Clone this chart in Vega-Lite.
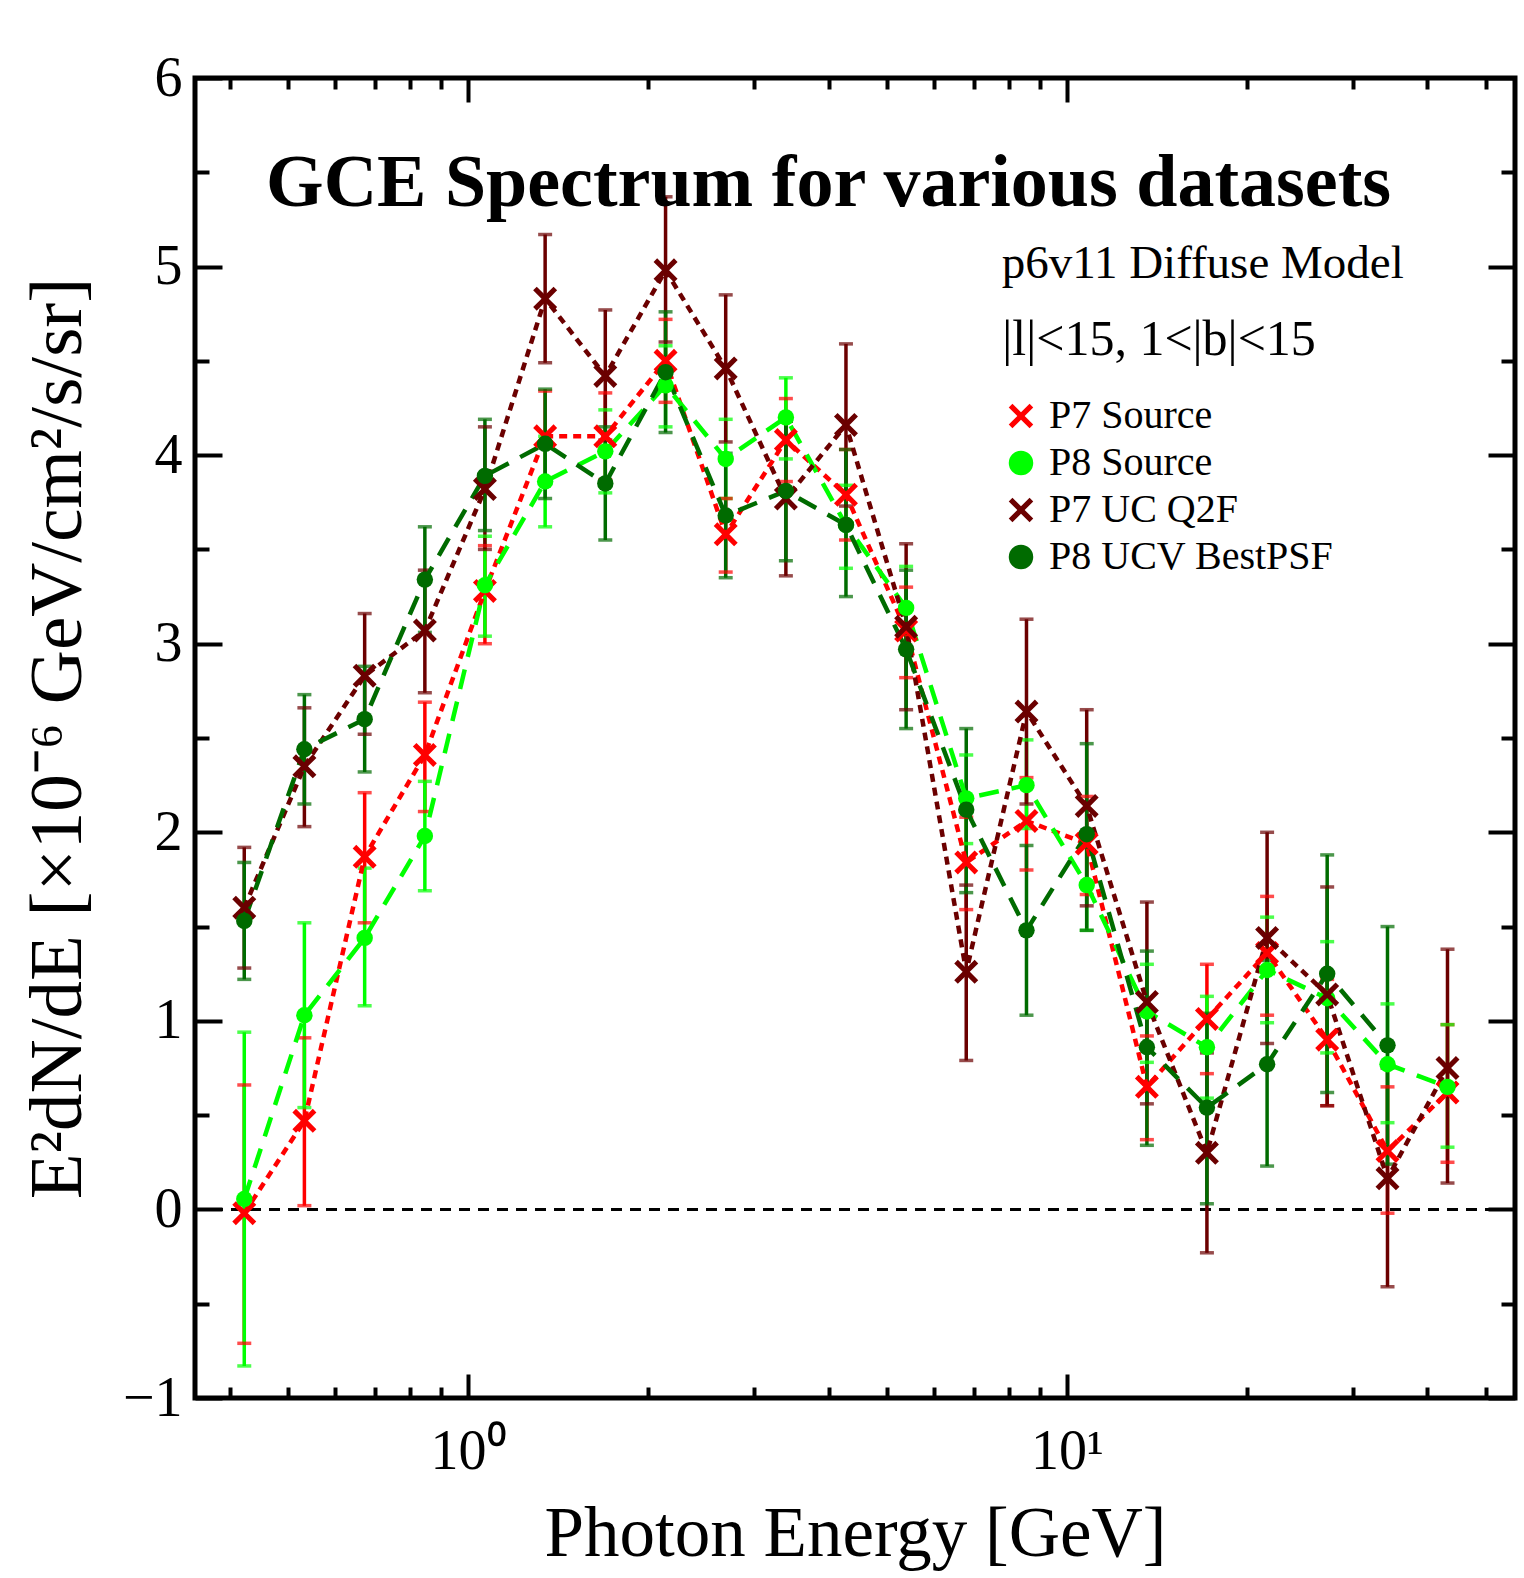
{
  "$schema": "https://vega.github.io/schema/vega-lite/v6.json",
  "width": 1320,
  "height": 1320,
  "autosize": {"type": "none"},
  "padding": {"left": 195, "top": 78, "right": 9, "bottom": 180},
  "background": "white",
  "config": {
    "view": {"stroke": "#000", "strokeWidth": 5},
    "font": "Liberation Serif",
    "axis": {"domain": false, "grid": false, "tickColor": "#000", "tickWidth": 4, "labelColor": "#000", "labelFont": "Liberation Serif", "titleFont": "Liberation Serif", "titleColor": "#000", "titleFontWeight": "normal"},
    "legend": {"labelFont": "Liberation Serif", "labelFontSize": 40, "labelColor": "#000", "labelLimit": 500, "symbolSize": 600, "rowPadding": 7, "labelOffset": 8, "symbolStrokeWidth": 0, "padding": 0}
  },
  "datasets": {
    "pts": [
      {"s": "P7 Source", "E": 0.423, "v": -0.02, "lo": -0.71, "hi": 0.66},
      {"s": "P7 Source", "E": 0.533, "v": 0.47, "lo": 0.02, "hi": 0.91},
      {"s": "P7 Source", "E": 0.672, "v": 1.87, "lo": 1.52, "hi": 2.21},
      {"s": "P7 Source", "E": 0.847, "v": 2.41, "lo": 2.11, "hi": 2.69},
      {"s": "P7 Source", "E": 1.067, "v": 3.28, "lo": 3.0, "hi": 3.52},
      {"s": "P7 Source", "E": 1.345, "v": 4.1, "lo": 3.86, "hi": 4.34},
      {"s": "P7 Source", "E": 1.695, "v": 4.1, "lo": 3.87, "hi": 4.33},
      {"s": "P7 Source", "E": 2.137, "v": 4.5, "lo": 4.28, "hi": 4.72},
      {"s": "P7 Source", "E": 2.693, "v": 3.58, "lo": 3.38, "hi": 3.77},
      {"s": "P7 Source", "E": 3.394, "v": 4.08, "lo": 3.86, "hi": 4.3},
      {"s": "P7 Source", "E": 4.276, "v": 3.79, "lo": 3.55, "hi": 4.03},
      {"s": "P7 Source", "E": 5.389, "v": 3.07, "lo": 2.82, "hi": 3.3},
      {"s": "P7 Source", "E": 6.79, "v": 1.84, "lo": 1.59, "hi": 2.08},
      {"s": "P7 Source", "E": 8.56, "v": 2.06, "lo": 1.8, "hi": 2.29},
      {"s": "P7 Source", "E": 10.79, "v": 1.94, "lo": 1.67, "hi": 2.19},
      {"s": "P7 Source", "E": 13.6, "v": 0.65, "lo": 0.37, "hi": 0.92},
      {"s": "P7 Source", "E": 17.13, "v": 1.01, "lo": 0.72, "hi": 1.3},
      {"s": "P7 Source", "E": 21.59, "v": 1.36, "lo": 1.03, "hi": 1.66},
      {"s": "P7 Source", "E": 27.2, "v": 0.9, "lo": 0.55, "hi": 1.22},
      {"s": "P7 Source", "E": 34.3, "v": 0.31, "lo": -0.02, "hi": 0.65},
      {"s": "P7 Source", "E": 43.2, "v": 0.62, "lo": 0.25, "hi": 0.98},
      {"s": "P8 Source", "E": 0.423, "v": 0.055, "lo": -0.83, "hi": 0.94},
      {"s": "P8 Source", "E": 0.533, "v": 1.03, "lo": 0.54, "hi": 1.52},
      {"s": "P8 Source", "E": 0.672, "v": 1.44, "lo": 1.08, "hi": 1.81},
      {"s": "P8 Source", "E": 0.847, "v": 1.98, "lo": 1.69, "hi": 2.27},
      {"s": "P8 Source", "E": 1.067, "v": 3.31, "lo": 3.04, "hi": 3.57},
      {"s": "P8 Source", "E": 1.345, "v": 3.86, "lo": 3.62, "hi": 4.1},
      {"s": "P8 Source", "E": 1.695, "v": 4.02, "lo": 3.8, "hi": 4.24},
      {"s": "P8 Source", "E": 2.137, "v": 4.37, "lo": 4.15, "hi": 4.58},
      {"s": "P8 Source", "E": 2.693, "v": 3.98, "lo": 3.77, "hi": 4.19},
      {"s": "P8 Source", "E": 3.394, "v": 4.2, "lo": 3.98, "hi": 4.41},
      {"s": "P8 Source", "E": 4.276, "v": 3.63, "lo": 3.4, "hi": 3.84},
      {"s": "P8 Source", "E": 5.389, "v": 3.19, "lo": 2.97, "hi": 3.41},
      {"s": "P8 Source", "E": 6.79, "v": 2.18, "lo": 1.94, "hi": 2.41},
      {"s": "P8 Source", "E": 8.56, "v": 2.25, "lo": 2.02, "hi": 2.49},
      {"s": "P8 Source", "E": 10.79, "v": 1.72, "lo": 1.48, "hi": 1.97},
      {"s": "P8 Source", "E": 13.6, "v": 1.05, "lo": 0.78, "hi": 1.3},
      {"s": "P8 Source", "E": 17.13, "v": 0.86, "lo": 0.59, "hi": 1.13},
      {"s": "P8 Source", "E": 21.59, "v": 1.27, "lo": 0.99, "hi": 1.55},
      {"s": "P8 Source", "E": 27.2, "v": 1.12, "lo": 0.83, "hi": 1.42},
      {"s": "P8 Source", "E": 34.3, "v": 0.77, "lo": 0.46, "hi": 1.09},
      {"s": "P8 Source", "E": 43.2, "v": 0.65, "lo": 0.33, "hi": 0.98},
      {"s": "P7 UC Q2F", "E": 0.423, "v": 1.6, "lo": 1.28, "hi": 1.92},
      {"s": "P7 UC Q2F", "E": 0.533, "v": 2.35, "lo": 2.03, "hi": 2.66},
      {"s": "P7 UC Q2F", "E": 0.672, "v": 2.83, "lo": 2.52, "hi": 3.16},
      {"s": "P7 UC Q2F", "E": 0.847, "v": 3.07, "lo": 2.74, "hi": 3.39},
      {"s": "P7 UC Q2F", "E": 1.067, "v": 3.82, "lo": 3.5, "hi": 4.15},
      {"s": "P7 UC Q2F", "E": 1.345, "v": 4.83, "lo": 4.49, "hi": 5.17},
      {"s": "P7 UC Q2F", "E": 1.695, "v": 4.42, "lo": 4.08, "hi": 4.77},
      {"s": "P7 UC Q2F", "E": 2.137, "v": 4.98, "lo": 4.6, "hi": 5.37},
      {"s": "P7 UC Q2F", "E": 2.693, "v": 4.46, "lo": 4.07, "hi": 4.85},
      {"s": "P7 UC Q2F", "E": 3.394, "v": 3.77, "lo": 3.36, "hi": 4.18},
      {"s": "P7 UC Q2F", "E": 4.276, "v": 4.16, "lo": 3.73, "hi": 4.59},
      {"s": "P7 UC Q2F", "E": 5.389, "v": 3.09, "lo": 2.65, "hi": 3.53},
      {"s": "P7 UC Q2F", "E": 6.79, "v": 1.26, "lo": 0.79, "hi": 1.72},
      {"s": "P7 UC Q2F", "E": 8.56, "v": 2.64, "lo": 2.15, "hi": 3.13},
      {"s": "P7 UC Q2F", "E": 10.79, "v": 2.14, "lo": 1.61, "hi": 2.65},
      {"s": "P7 UC Q2F", "E": 13.6, "v": 1.1, "lo": 0.56, "hi": 1.63},
      {"s": "P7 UC Q2F", "E": 17.13, "v": 0.3, "lo": -0.23, "hi": 0.83},
      {"s": "P7 UC Q2F", "E": 21.59, "v": 1.44, "lo": 0.88, "hi": 2.0},
      {"s": "P7 UC Q2F", "E": 27.2, "v": 1.14, "lo": 0.55, "hi": 1.71},
      {"s": "P7 UC Q2F", "E": 34.3, "v": 0.165, "lo": -0.41, "hi": 0.75},
      {"s": "P7 UC Q2F", "E": 43.2, "v": 0.75, "lo": 0.14, "hi": 1.38},
      {"s": "P8 UCV BestPSF", "E": 0.423, "v": 1.53, "lo": 1.22, "hi": 1.84},
      {"s": "P8 UCV BestPSF", "E": 0.533, "v": 2.44, "lo": 2.15, "hi": 2.73},
      {"s": "P8 UCV BestPSF", "E": 0.672, "v": 2.6, "lo": 2.32, "hi": 2.88},
      {"s": "P8 UCV BestPSF", "E": 0.847, "v": 3.34, "lo": 3.06, "hi": 3.62},
      {"s": "P8 UCV BestPSF", "E": 1.067, "v": 3.89, "lo": 3.6, "hi": 4.19},
      {"s": "P8 UCV BestPSF", "E": 1.345, "v": 4.06, "lo": 3.77, "hi": 4.35},
      {"s": "P8 UCV BestPSF", "E": 1.695, "v": 3.85, "lo": 3.55, "hi": 4.15},
      {"s": "P8 UCV BestPSF", "E": 2.137, "v": 4.44, "lo": 4.12, "hi": 4.76},
      {"s": "P8 UCV BestPSF", "E": 2.693, "v": 3.68, "lo": 3.35, "hi": 4.01},
      {"s": "P8 UCV BestPSF", "E": 3.394, "v": 3.81, "lo": 3.44, "hi": 4.18},
      {"s": "P8 UCV BestPSF", "E": 4.276, "v": 3.63, "lo": 3.25, "hi": 4.03},
      {"s": "P8 UCV BestPSF", "E": 5.389, "v": 2.97, "lo": 2.55, "hi": 3.39},
      {"s": "P8 UCV BestPSF", "E": 6.79, "v": 2.12, "lo": 1.68, "hi": 2.55},
      {"s": "P8 UCV BestPSF", "E": 8.56, "v": 1.48, "lo": 1.03, "hi": 1.93},
      {"s": "P8 UCV BestPSF", "E": 10.79, "v": 1.99, "lo": 1.48, "hi": 2.47},
      {"s": "P8 UCV BestPSF", "E": 13.6, "v": 0.86, "lo": 0.34, "hi": 1.37},
      {"s": "P8 UCV BestPSF", "E": 17.13, "v": 0.54, "lo": 0.03, "hi": 1.04},
      {"s": "P8 UCV BestPSF", "E": 21.59, "v": 0.77, "lo": 0.23, "hi": 1.32},
      {"s": "P8 UCV BestPSF", "E": 27.2, "v": 1.25, "lo": 0.62, "hi": 1.88},
      {"s": "P8 UCV BestPSF", "E": 34.3, "v": 0.87, "lo": 0.24, "hi": 1.5}
    ]
  },
  "resolve": {"axis": {"x": "independent", "y": "independent"}},
  "layer": [
    {
      "data": {"values": [{}]},
      "mark": {"type": "rule", "strokeDash": [11, 8], "strokeWidth": 3, "color": "#000"},
      "encoding": {
        "y": {"datum": 0, "type": "quantitative", "scale": {"domain": [-1, 6], "nice": false, "zero": false}, "axis": null}
      }
    },
    {
      "data": {"name": "pts"},
      "mark": {"type": "rule", "strokeWidth": 3.5},
      "encoding": {
        "x": {"field": "E", "type": "quantitative", "scale": {"type": "log", "domain": [0.35, 56], "nice": false},
          "axis": {"orient": "bottom", "values": [0.4, 0.5, 0.6, 0.7, 0.8, 0.9, 1, 2, 3, 4, 5, 6, 7, 8, 9, 10, 20, 30, 40, 50],
            "tickSize": {"condition": {"test": "datum.value == 1 || datum.value == 10", "value": -24}, "value": -11},
            "labelExpr": "datum.value == 1 ? '10⁰' : (datum.value == 10 ? '10¹' : '')",
            "labelFontSize": 56, "labelPadding": 50, "labelBaseline": "top", "labelFlush": false,
            "title": "Photon Energy [GeV]", "titleFontSize": 71, "titlePadding": 20}},
        "y": {"field": "lo", "type": "quantitative", "scale": {"domain": [-1, 6], "nice": false, "zero": false},
          "axis": {"orient": "left", "values": [-1, -0.5, 0, 0.5, 1, 1.5, 2, 2.5, 3, 3.5, 4, 4.5, 5, 5.5, 6],
            "tickSize": {"condition": {"test": "datum.value % 1 == 0", "value": -27}, "value": -14},
            "labelExpr": "datum.value % 1 == 0 ? (datum.value < 0 ? '−' + abs(datum.value) : '' + datum.value) : ''",
            "labelFontSize": 56, "labelPadding": 40, "labelFlush": false,
            "title": "E²dN/dE [×10⁻⁶ GeV/cm²/s/sr]", "titleFontSize": 75, "titlePadding": 26}},
        "y2": {"field": "hi"},
        "stroke": {"field": "s", "type": "nominal", "scale": {"domain": ["P7 UC Q2F", "P7 Source", "P8 Source", "P8 UCV BestPSF"], "range": ["#6b0000", "#ff0000", "#00ff00", "#006b00"]}, "legend": null}
      }
    },
    {
      "data": {"name": "pts"},
      "mark": {"type": "tick", "orient": "horizontal", "size": 14, "thickness": 3.5},
      "encoding": {
        "x": {"field": "E", "type": "quantitative", "scale": {"type": "log", "domain": [0.35, 56], "nice": false},
          "axis": {"orient": "top", "values": [0.4, 0.5, 0.6, 0.7, 0.8, 0.9, 1, 2, 3, 4, 5, 6, 7, 8, 9, 10, 20, 30, 40, 50],
            "tickSize": {"condition": {"test": "datum.value == 1 || datum.value == 10", "value": -24}, "value": -11},
            "labels": false, "title": null}},
        "y": {"field": "lo", "type": "quantitative", "scale": {"domain": [-1, 6], "nice": false, "zero": false},
          "axis": {"orient": "right", "values": [-1, -0.5, 0, 0.5, 1, 1.5, 2, 2.5, 3, 3.5, 4, 4.5, 5, 5.5, 6],
            "tickSize": {"condition": {"test": "datum.value % 1 == 0", "value": -27}, "value": -14},
            "labels": false, "title": null}},
        "fill": {"field": "s", "type": "nominal", "scale": {"domain": ["P8 UCV BestPSF", "P7 Source", "P8 Source", "P7 UC Q2F"], "range": ["#006b00", "#ff0000", "#00ff00", "#6b0000"]}, "legend": null}
      }
    },
    {
      "data": {"name": "pts"},
      "mark": {"type": "tick", "orient": "horizontal", "size": 14, "thickness": 3.5},
      "encoding": {
        "x": {"field": "E", "type": "quantitative", "scale": {"type": "log", "domain": [0.35, 56], "nice": false}, "axis": null},
        "y": {"field": "hi", "type": "quantitative", "scale": {"domain": [-1, 6], "nice": false, "zero": false}, "axis": null},
        "fill": {"field": "s", "type": "nominal", "legend": null}
      }
    },
    {
      "data": {"name": "pts"},
      "mark": {"type": "line", "strokeWidth": 4.5},
      "encoding": {
        "x": {"field": "E", "type": "quantitative", "scale": {"type": "log", "domain": [0.35, 56], "nice": false}, "axis": null},
        "y": {"field": "v", "type": "quantitative", "scale": {"domain": [-1, 6], "nice": false, "zero": false}, "axis": null},
        "stroke": {"field": "s", "type": "nominal", "legend": null},
        "strokeDash": {"field": "s", "type": "nominal", "scale": {"type": "ordinal", "domain": ["P7 Source", "P7 UC Q2F", "P8 Source", "P8 UCV BestPSF"], "range": [[8, 6], [8, 6], [20, 13], [20, 13]]}, "legend": null}
      }
    },
    {
      "data": {"name": "pts"},
      "mark": {"type": "point", "filled": true, "opacity": 1, "strokeWidth": 0},
      "encoding": {
        "x": {"field": "E", "type": "quantitative", "scale": {"type": "log", "domain": [0.35, 56], "nice": false}, "axis": null},
        "y": {"field": "v", "type": "quantitative", "scale": {"domain": [-1, 6], "nice": false, "zero": false}, "axis": null},
        "color": {"field": "s", "type": "nominal", "scale": {"domain": ["P7 Source", "P8 Source", "P7 UC Q2F", "P8 UCV BestPSF"], "range": ["#ff0000", "#00ff00", "#6b0000", "#006b00"]},
          "legend": {"orient": "none", "legendX": 806, "legendY": 318, "title": null}},
        "shape": {"field": "s", "type": "nominal", "scale": {"domain": ["P7 Source", "P8 Source", "P7 UC Q2F", "P8 UCV BestPSF"], "range": ["M-1,-0.7L-0.7,-1L0,-0.3L0.7,-1L1,-0.7L0.3,0L1,0.7L0.7,1L0,0.3L-0.7,1L-1,0.7L-0.3,0Z", "circle", "M-1,-0.7L-0.7,-1L0,-0.3L0.7,-1L1,-0.7L0.3,0L1,0.7L0.7,1L0,0.3L-0.7,1L-1,0.7L-0.3,0Z", "circle"]},
          "legend": {"orient": "none", "legendX": 806, "legendY": 318, "title": null}},
        "size": {"field": "s", "type": "nominal", "scale": {"type": "ordinal", "domain": ["P8 Source", "P7 Source", "P7 UC Q2F", "P8 UCV BestPSF"], "range": [270, 576, 576, 270]}, "legend": null}
      }
    },
    {
      "data": {"values": [{}]},
      "mark": {"type": "text", "text": "GCE Spectrum for various datasets", "font": "Liberation Serif", "fontSize": 74, "fontWeight": "bold", "align": "center", "baseline": "alphabetic", "color": "#000"},
      "encoding": {
        "x": {"datum": 4.0, "type": "quantitative", "scale": {"type": "log", "domain": [0.35, 56], "nice": false}, "axis": null},
        "y": {"datum": 5.32, "type": "quantitative", "scale": {"domain": [-1, 6], "nice": false, "zero": false}, "axis": null}
      }
    },
    {
      "data": {"values": [{}]},
      "mark": {"type": "text", "text": "p6v11 Diffuse Model", "font": "Liberation Serif", "fontSize": 47, "align": "left", "baseline": "alphabetic", "color": "#000"},
      "encoding": {
        "x": {"datum": 7.78, "type": "quantitative", "scale": {"type": "log", "domain": [0.35, 56], "nice": false}, "axis": null},
        "y": {"datum": 4.94, "type": "quantitative", "scale": {"domain": [-1, 6], "nice": false, "zero": false}, "axis": null}
      }
    },
    {
      "data": {"values": [{}]},
      "mark": {"type": "text", "text": "|l|<15, 1<|b|<15", "font": "Liberation Serif", "fontSize": 50, "align": "left", "baseline": "alphabetic", "color": "#000"},
      "encoding": {
        "x": {"datum": 7.8, "type": "quantitative", "scale": {"type": "log", "domain": [0.35, 56], "nice": false}, "axis": null},
        "y": {"datum": 4.53, "type": "quantitative", "scale": {"domain": [-1, 6], "nice": false, "zero": false}, "axis": null}
      }
    }
  ]
}
